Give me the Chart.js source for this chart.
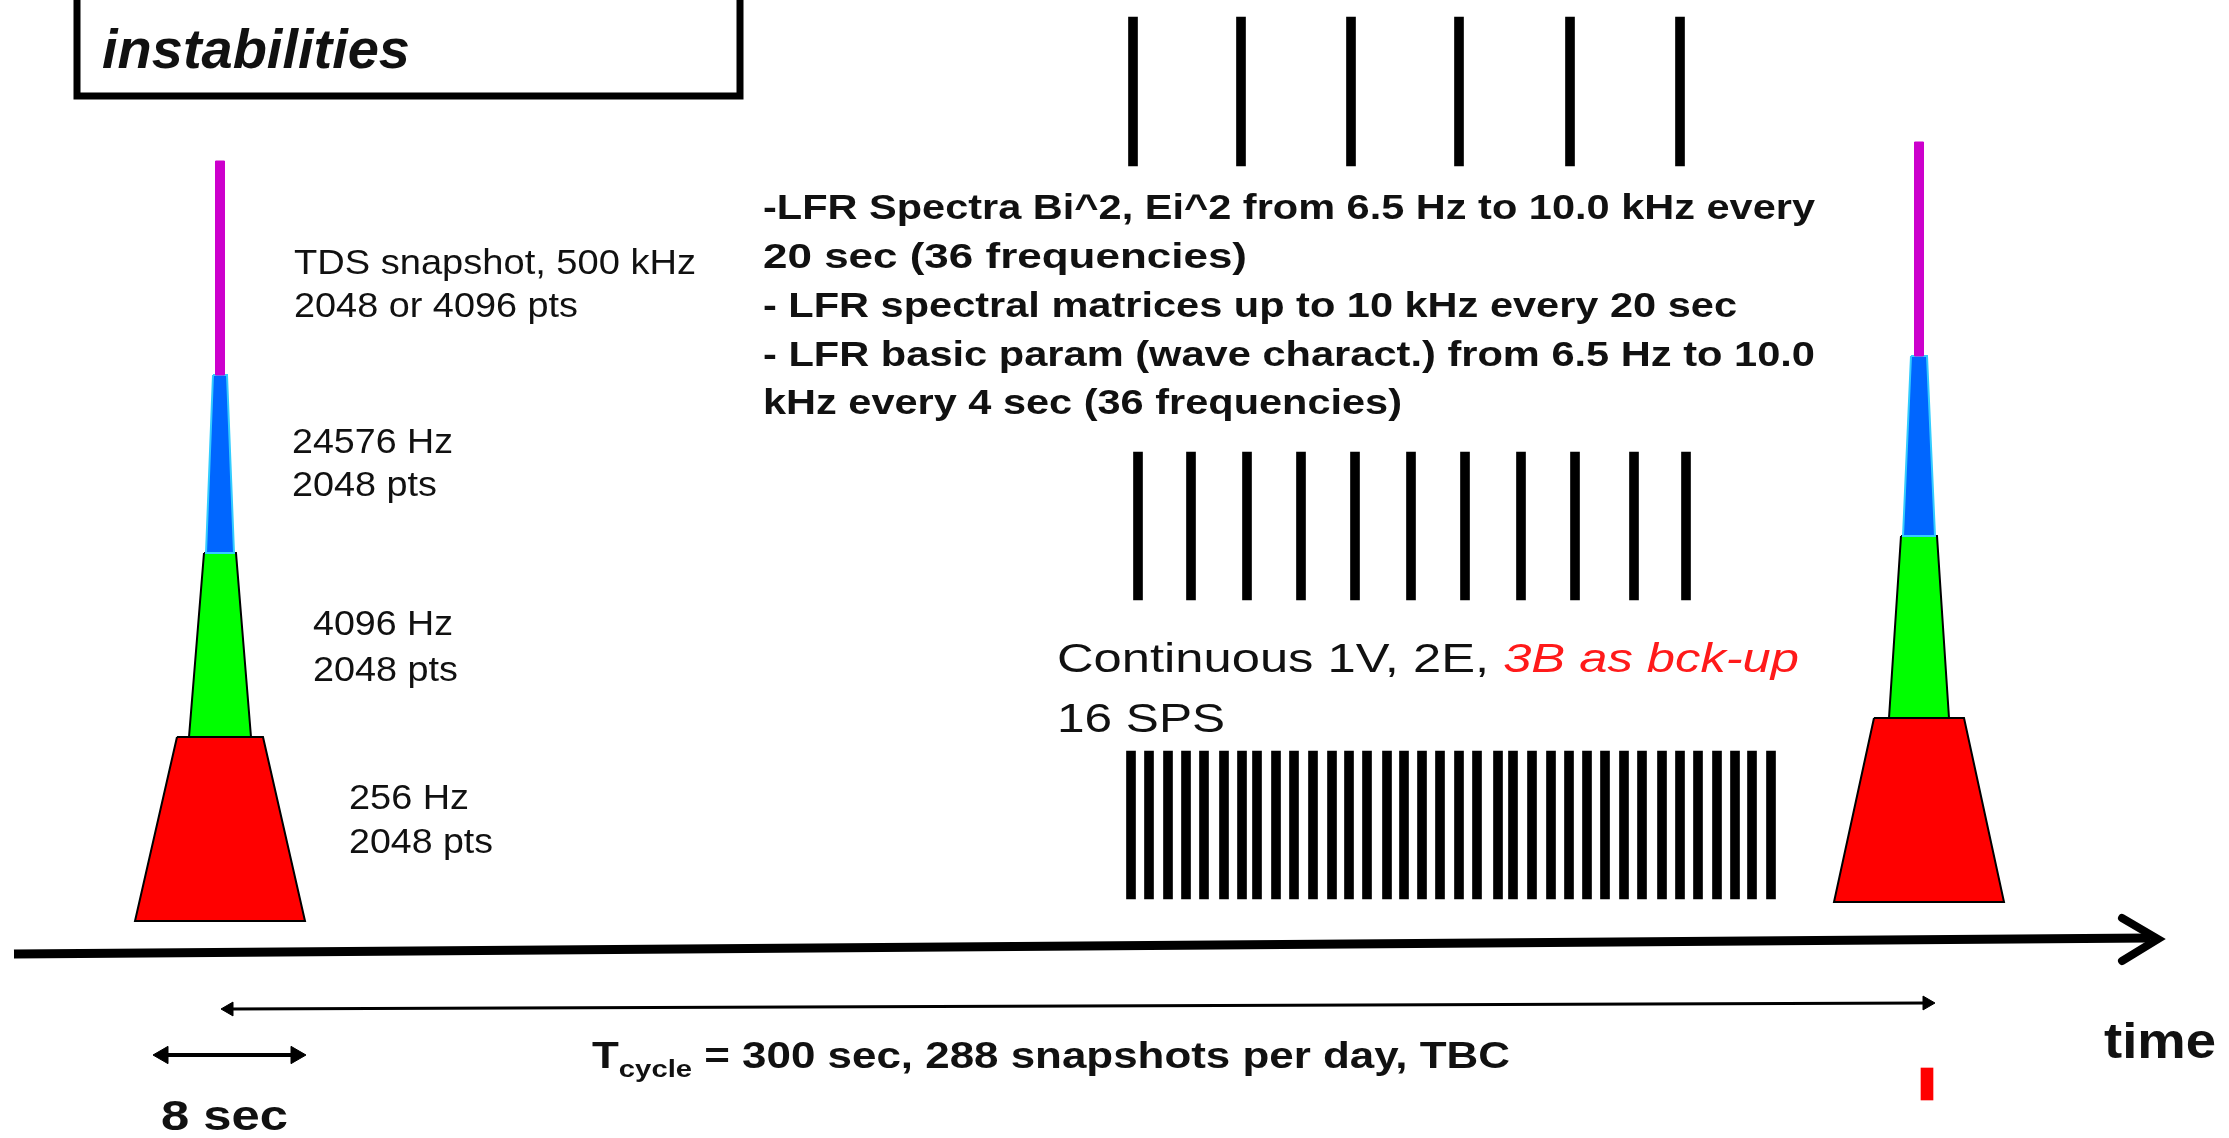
<!DOCTYPE html>
<html>
<head>
<meta charset="utf-8">
<script src="https://cdn.jsdelivr.net/npm/chart.js@4.4.1/dist/chart.umd.min.js"></script>
<style>
  html, body { margin: 0; padding: 0; background: #fff; }
  #wrap { width: 2229px; height: 1138px; }
</style>
</head>
<body>
<div id="wrap"><canvas id="chart"></canvas></div>
<script>
// Bar groups: time positions (diagram units) and vertical span of each tick
const lfrSpectraTimes = [1133, 1241, 1351, 1459, 1570, 1680];
const lfrSpectraSpan = [17, 166];
const lfrParamTimes = [1138, 1191, 1247, 1301, 1355, 1411, 1465, 1521, 1575, 1634, 1686];
const lfrParamSpan = [452, 600];
const continuousTimes = [1131, 1149, 1168, 1186, 1204, 1224, 1242, 1257, 1276, 1294, 1313, 1332,
  1349, 1367, 1387, 1404, 1422, 1440, 1459, 1477, 1498, 1513, 1532, 1551,
  1569, 1587, 1605, 1624, 1642, 1662, 1680, 1698, 1717, 1735, 1752, 1771];
const continuousSpan = [751, 899];
const markerTime = [1927];
const markerSpan = [1068, 1100];

// Snapshot towers: centre time, then tiers [top, bottom, half width top, half width bottom]
const snapshotCenters = [220, 1919];
const tierNames = ["TDS 500 kHz", "24576 Hz", "4096 Hz", "256 Hz"];
const leftTiers = [[161, 375, 4.5, 4.5], [375, 553, 7, 14], [553, 737, 16, 31], [737, 921, 43, 85]];
const rightTiers = [[142, 356, 4.5, 4.5], [356, 536, 8, 16], [536, 718, 18, 30], [718, 902, 45, 85]];
const tierColors = ["#cc00cc", "#0066ff", "#00ff00", "#ff0000"];
const tierEdges = ["#cc00cc", "#33ccff", "#000000", "#000000"];

// Arrows: time axis, cycle span, 8 sec span
const timeAxis = [[14, 954], [2150, 938]];
const timeArrowHead = [[2122, 918], [2158, 939], [2122, 961]];
const cycleArrow = [[229, 1009], [1927, 1003]];
const eightSecArrow = [[163, 1055], [296, 1055]];
const legendBox = [[77, -20], [77, 96], [740, 96], [740, -20]];

// first installed Arial-like family
function pickFamily(cands) {
  const c = document.createElement("canvas").getContext("2d");
  const probe = "Wide mmmm iiii 0123 QqRr";
  for (const f of cands) {
    let found = false;
    for (const base of ["monospace", "serif"]) {
      c.font = `40px ${base}`;
      const m = c.measureText(probe).width;
      c.font = `40px "${f}", ${base}`;
      const w = c.measureText(probe).width;
      if (Math.abs(w - m) > 0.5) found = true;
    }
    if (found) return `"${f}", sans-serif`;
  }
  return "sans-serif";
}
const fam = pickFamily(["Liberation Sans", "Arimo", "Arial", "Helvetica", "Roboto"]);
const font = (style, size) => `${style} ${size}px ${fam}`;

// text placed at diagram coords (left, baseline) and stretched to a width
const labels = [
  { x: 102, y: 68, w: 308, runs: [{ t: "instabilities", f: font("italic bold", 55) }] },
  { x: 294, y: 274, w: 402, runs: [{ t: "TDS snapshot, 500 kHz", f: font("normal", 35) }] },
  { x: 294, y: 317, w: 284, runs: [{ t: "2048 or 4096 pts", f: font("normal", 35) }] },
  { x: 292, y: 453, w: 161, runs: [{ t: "24576 Hz", f: font("normal", 35) }] },
  { x: 292, y: 496, w: 145, runs: [{ t: "2048 pts", f: font("normal", 35) }] },
  { x: 313, y: 635, w: 140, runs: [{ t: "4096 Hz", f: font("normal", 35) }] },
  { x: 313, y: 681, w: 145, runs: [{ t: "2048 pts", f: font("normal", 35) }] },
  { x: 349, y: 809, w: 120, runs: [{ t: "256 Hz", f: font("normal", 35) }] },
  { x: 349, y: 853, w: 144, runs: [{ t: "2048 pts", f: font("normal", 35) }] },
  { x: 763, y: 219, w: 1052, runs: [{ t: "-LFR Spectra Bi^2, Ei^2 from 6.5 Hz to 10.0 kHz every", f: font("bold", 35) }] },
  { x: 763, y: 268, w: 484, runs: [{ t: "20 sec (36 frequencies)", f: font("bold", 35) }] },
  { x: 763, y: 317, w: 974, runs: [{ t: "- LFR spectral matrices up to 10 kHz every 20 sec", f: font("bold", 35) }] },
  { x: 763, y: 366, w: 1052, runs: [{ t: "- LFR basic param (wave charact.) from 6.5 Hz to 10.0", f: font("bold", 35) }] },
  { x: 763, y: 414, w: 639, runs: [{ t: "kHz every 4 sec (36 frequencies)", f: font("bold", 35) }] },
  { x: 1057, y: 672, w: 742, runs: [
      { t: "Continuous 1V, 2E, ", f: font("normal", 40) },
      { t: "3B as bck-up", f: font("italic", 40), c: "#ff1a1a" }] },
  { x: 1057, y: 732, w: 168, runs: [{ t: "16 SPS", f: font("normal", 40) }] },
  { x: 161, y: 1130, w: 127, runs: [{ t: "8 sec", f: font("bold", 42) }] },
  { x: 592, y: 1068, w: 918, runs: [
      { t: "T", f: font("bold", 36) },
      { t: "cycle", f: font("bold", 24), dy: 9 },
      { t: " = 300 sec, 288 snapshots per day, TBC", f: font("bold", 36) }] },
  { x: 2104, y: 1058, w: 112, runs: [{ t: "time", f: font("bold", 50) }] },
];

const textLayer = {
  id: "textLayer",
  afterDatasetsDraw(chart) {
    const { ctx, scales: { x, y } } = chart;
    labels.forEach((l) => {
      let total = 0;
      l.runs.forEach((r) => {
        ctx.font = r.f;
        r.width = ctx.measureText(r.t).width;
        total += r.width;
      });
      const px = x.getPixelForValue(l.x);
      const sx = (x.getPixelForValue(l.x + l.w) - px) / total;
      ctx.save();
      ctx.translate(px, y.getPixelForValue(l.y));
      ctx.scale(sx, 1);
      ctx.textAlign = "left";
      ctx.textBaseline = "alphabetic";
      let cx = 0;
      l.runs.forEach((r) => {
        ctx.font = r.f;
        ctx.fillStyle = r.c || "#111";
        ctx.fillText(r.t, cx, r.dy || 0);
        cx += r.width;
      });
      ctx.restore();
    });
  },
};

const pts = (list) => list.map(([x, y]) => ({ x, y }));

const bars = (times, span, thick, color) => ({
  type: "bar",
  data: times.map((t) => ({ x: t, y: span })),
  backgroundColor: color,
  barThickness: thick,
  stack: "marks",
  borderWidth: 0,
  borderSkipped: false,
});

const tier = (cx, [top, bottom, ht, hb], i) => ({
  type: "line",
  label: tierNames[i],
  data: [
    { x: cx - ht, y: top }, { x: cx + ht, y: top },
    { x: cx + hb, y: bottom }, { x: cx - hb, y: bottom },
    { x: cx - ht, y: top },
  ],
  fill: "shape",
  backgroundColor: tierColors[i],
  borderColor: tierEdges[i],
  borderWidth: i === 0 ? 1 : 2,
  pointRadius: 0,
});

const stroke = (list, width, extra) => Object.assign({
  type: "line",
  data: pts(list),
  borderColor: "#000",
  borderWidth: width,
  pointRadius: 0,
  fill: false,
}, extra || {});

const datasets = [
  ...leftTiers.map((t, i) => tier(snapshotCenters[0], t, i)),
  ...rightTiers.map((t, i) => tier(snapshotCenters[1], t, i)),
  bars(lfrSpectraTimes, lfrSpectraSpan, 9, "#000"),
  bars(lfrParamTimes, lfrParamSpan, 9, "#000"),
  bars(continuousTimes, continuousSpan, 9, "#000"),
  bars(markerTime, markerSpan, 12, "#ff0000"),
  stroke(legendBox, 7, { borderJoinStyle: "miter" }),
  stroke(timeAxis, 9),
  stroke(timeArrowHead, 8, { borderCapStyle: "round", borderJoinStyle: "miter" }),
  stroke(cycleArrow, 3, {
    pointStyle: "triangle", pointRotation: [-90, 90], pointRadius: 8,
    pointBackgroundColor: "#000", pointBorderColor: "#000", pointBorderWidth: 1,
  }),
  stroke(eightSecArrow, 4, {
    pointStyle: "triangle", pointRotation: [-90, 90], pointRadius: 10,
    pointBackgroundColor: "#000", pointBorderColor: "#000", pointBorderWidth: 1,
  }),
];

new Chart(document.getElementById("chart"), {
  type: "line",
  data: { datasets },
  plugins: [textLayer],
  options: {
    responsive: true,
    maintainAspectRatio: false,
    animation: false,
    events: [],
    layout: { padding: 0, autoPadding: false },
    scales: {
      x: { type: "linear", min: 0, max: 2229, display: false, offset: false },
      y: { type: "linear", min: 0, max: 1138, reverse: true, display: false, stacked: false },
    },
    plugins: {
      legend: { display: false },
      tooltip: { enabled: false },
    },
  },
});
</script>
</body>
</html>
